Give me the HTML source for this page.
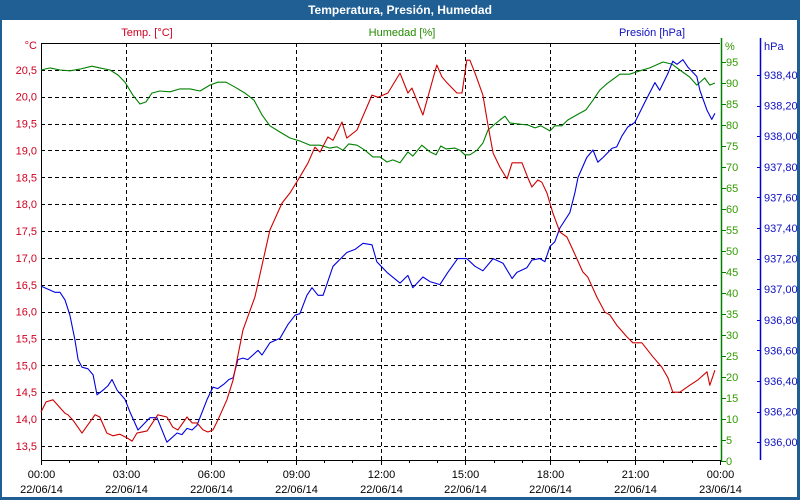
<!DOCTYPE html>
<html><head><meta charset="utf-8"><style>
html,body{margin:0;padding:0;background:#fff}
#wrap{position:relative;width:800px;height:500px;overflow:hidden;font-family:"Liberation Sans",sans-serif}
</style></head><body>
<div id="wrap">
<svg id="chart" width="800" height="500" xmlns="http://www.w3.org/2000/svg">
<rect x="0" y="0" width="800" height="500" fill="#1f5f94"/>
<rect x="2" y="20" width="795" height="477" fill="#ffffff"/>
<text x="400" y="14" text-anchor="middle" font-size="12" font-weight="bold" fill="#ffffff">Temperatura, Presión, Humedad</text>
<text x="147" y="36" text-anchor="middle" font-size="11" fill="#d00020">Temp. [°C]</text>
<text x="402" y="36" text-anchor="middle" font-size="11" fill="#228b00">Humedad [%]</text>
<text x="652" y="36" text-anchor="middle" font-size="11" fill="#1010c0">Presión [hPa]</text>
<g id="grid"></g><g id="axes"></g><g id="series"></g>
</svg>
</div>
<script>
const NS="http://www.w3.org/2000/svg";
const timeTicks=[0,3,6,9,12,15,18,21,24];
const timeLabels=["00:00","03:00","06:00","09:00","12:00","15:00","18:00","21:00","00:00"];
const dateLabels=["22/06/14","22/06/14","22/06/14","22/06/14","22/06/14","22/06/14","22/06/14","22/06/14","23/06/14"];
const tempTicks=[13.5,14,14.5,15,15.5,16,16.5,17,17.5,18,18.5,19,19.5,20,20.5];
const humTicks=[0,5,10,15,20,25,30,35,40,45,50,55,60,65,70,75,80,85,90,95];
const presTicks=[936.0,936.2,936.4,936.6,936.8,937.0,937.2,937.4,937.6,937.8,938.0,938.2,938.4];

const tempTimes=[0,.18,.42,.85,.95,1.13,1.45,1.91,2.08,2.33,2.54,2.79,3.04,3.22,3.39,3.75,4.13,4.45,4.66,4.84,5.16,5.34,5.51,5.73,5.90,6.08,6.25,6.57,6.79,7.14,7.56,8.09,8.52,8.80,9.15,9.44,9.68,9.86,10.14,10.32,10.64,10.81,11.17,11.70,11.91,12.26,12.69,12.97,13.11,13.50,13.99,14.17,14.35,14.70,14.88,15.05,15.16,15.34,15.62,15.80,15.98,16.22,16.47,16.65,17.00,17.21,17.35,17.56,17.70,17.88,18.09,18.34,18.59,18.80,19.15,19.33,19.65,19.93,20.11,20.35,20.71,20.92,21.24,21.63,21.94,22.16,22.33,22.58,22.93,23.22,23.54,23.64,23.82];
const tempVals=[14.13,14.32,14.36,14.11,14.08,13.98,13.74,14.08,14.04,13.74,13.69,13.72,13.65,13.59,13.74,13.78,14.08,14.04,13.85,13.80,14.04,13.93,13.93,13.80,13.76,13.80,13.98,14.36,14.73,15.66,16.27,17.52,18.02,18.21,18.51,18.77,19.06,18.97,19.25,19.19,19.53,19.23,19.38,20.03,19.99,20.07,20.44,20.07,20.16,19.66,20.59,20.37,20.26,20.07,20.07,20.68,20.68,20.44,20.03,19.47,18.95,18.69,18.47,18.77,18.77,18.49,18.32,18.45,18.41,18.21,17.84,17.48,17.39,17.15,16.74,16.64,16.27,15.99,15.94,15.75,15.53,15.42,15.42,15.16,14.97,14.77,14.50,14.50,14.63,14.73,14.88,14.63,14.91];

const humTimes=[0,.32,.67,1.02,1.38,1.80,2.08,2.44,2.72,2.97,3.25,3.50,3.71,3.92,4.20,4.56,4.91,5.27,5.62,5.97,6.25,6.54,6.86,7.21,7.53,7.81,8.09,8.45,8.80,9.15,9.51,9.86,10.21,10.46,10.67,10.88,11.17,11.45,11.73,11.98,12.23,12.44,12.69,12.97,13.14,13.46,13.75,13.96,14.13,14.31,14.63,14.81,14.98,15.16,15.41,15.62,15.80,16.01,16.22,16.40,16.57,16.93,17.21,17.46,17.67,17.99,18.16,18.41,18.62,18.94,19.26,19.51,19.75,20.00,20.46,20.81,21.17,21.52,21.98,22.30,22.58,22.93,23.18,23.46,23.64,23.82];
const humVals=[93.1,93.6,93.1,92.9,93.3,94.0,93.6,93.1,91.9,90.2,87.1,85.0,85.5,87.6,88.1,87.9,88.6,88.6,88.1,89.5,90.2,90.2,89.0,87.6,85.9,82.4,79.8,78.3,76.9,76.2,75.2,75.2,74.5,74.8,74.0,75.5,75.2,74.0,72.4,72.4,71.2,71.7,71.0,73.6,72.6,75.2,73.6,72.9,75.0,74.3,74.5,74.0,72.9,72.9,74.0,75.7,78.8,80.0,81.2,82.1,80.5,80.2,80.0,79.3,79.8,78.6,79.8,79.8,81.2,82.4,83.6,85.9,88.3,89.8,92.1,92.1,92.9,93.6,95.0,94.5,93.1,91.4,89.5,91.2,89.5,90.0];

const presTimes=[0,.25,.49,.67,.85,1.02,1.20,1.31,1.45,1.66,1.84,1.98,2.19,2.37,2.51,2.69,2.83,2.97,3.14,3.43,3.85,4.10,4.45,4.81,4.98,5.16,5.34,5.51,5.87,6.08,6.25,6.47,6.64,6.79,6.96,7.14,7.31,7.67,7.81,8.09,8.45,8.73,8.98,9.15,9.40,9.58,9.79,9.97,10.32,10.81,11.10,11.38,11.70,11.87,12.23,12.69,12.97,13.14,13.50,13.75,14.10,14.38,14.73,15.05,15.34,15.62,15.98,16.33,16.65,16.82,17.17,17.35,17.63,17.81,17.99,18.16,18.34,18.69,18.87,18.98,19.29,19.51,19.68,19.86,20.18,20.35,20.53,20.74,20.99,21.34,21.70,21.87,22.16,22.33,22.48,22.69,22.87,23.18,23.29,23.54,23.71,23.82];
const presVals=[937.02,937.00,936.98,936.98,936.93,936.83,936.67,936.54,936.49,936.48,936.44,936.31,936.34,936.37,936.41,936.34,936.31,936.28,936.20,936.08,936.16,936.16,936.00,936.06,936.05,936.09,936.08,936.11,936.28,936.36,936.35,936.38,936.41,936.42,936.54,936.55,936.54,936.60,936.57,936.65,936.68,936.77,936.83,936.84,936.96,937.01,936.96,936.96,937.15,937.24,937.26,937.30,937.29,937.18,937.11,937.04,937.09,937.01,937.08,937.05,937.03,937.11,937.20,937.20,937.15,937.12,937.20,937.17,937.07,937.11,937.14,937.19,937.20,937.18,937.28,937.31,937.40,937.50,937.63,937.73,937.86,937.91,937.83,937.86,937.92,937.93,938.00,938.06,938.09,938.22,938.35,938.30,938.41,938.49,938.47,938.50,938.45,938.39,938.30,938.17,938.11,938.15];

const X0=41,X1=720,Y0=460,YT=43;
const xs=t=>X0+(X1-X0)*t/24;
const yTemp=v=>43+(21-v)*53.73;
const yHum=v=>461-v*4.2;
const yPres=v=>75+(938.4-v)*153;
function mk(tag,attrs,parent,text){const e=document.createElementNS(NS,tag);for(const k in attrs)e.setAttribute(k,attrs[k]);if(text!==undefined)e.textContent=text;parent.appendChild(e);return e;}
const grid=document.getElementById('grid'),axes=document.getElementById('axes'),series=document.getElementById('series');
const fmt=(v,d)=>v.toFixed(d).replace('.',',');

tempTicks.concat([21]).forEach(v=>{const y=Math.round(yTemp(v))+.5;
 const l=mk('line',{x1:X0,x2:X1,y1:y,y2:y,stroke:'#000','stroke-width':1,'stroke-dasharray':v===21?'none':'4,3'},grid);
 
 });
tempTicks.forEach(v=>{const t=mk('text',{x:37,y:yTemp(v)+4,'text-anchor':'end','font-size':11,fill:'#d00020'},axes,fmt(v,1));
 
 });
const cl=mk('text',{x:37,y:49,'text-anchor':'end','font-size':11,fill:'#d00020'},axes,'°C');



timeTicks.forEach((t,i)=>{const x=Math.round(xs(t))+.5;
 if(i>0&&i<timeTicks.length-1){const l=mk('line',{x1:x,x2:x,y1:YT,y2:Y0,stroke:'#000','stroke-width':1,'stroke-dasharray':'4,3'},grid);
 
 }
 const a=mk('text',{x:x,y:478,'text-anchor':'middle','font-size':11,fill:'#000'},axes,timeLabels[i]);
 
 
 const b=mk('text',{x:x,y:493,'text-anchor':'middle','font-size':11,fill:'#000'},axes,dateLabels[i]);
 
 });
for(let h=0;h<=24;h++){const x=Math.round(xs(h))+.5;const tk=mk('line',{x1:x,x2:x,y1:Y0,y2:Y0+(h%3===0?5:3),stroke:'#000'},axes);
 
 }
const xa=mk('line',{x1:X0,x2:X1,y1:Y0+.5,y2:Y0+.5,stroke:'#000'},axes);


const la=mk('line',{x1:X0+.5,x2:X0+.5,y1:YT,y2:Y0,stroke:'#000'},axes);



const ha=mk('line',{x1:721.5,x2:721.5,y1:38,y2:Y0+1,stroke:'#008000','stroke-width':1.5},axes);


humTicks.forEach(v=>{const y=Math.round(yHum(v))+.5;mk('line',{x1:721,x2:726,y1:y,y2:y,stroke:'#008000'},axes);
 const t=mk('text',{x:726,y:yHum(v)+4,'font-size':11,fill:'#339900'},axes,String(v));
 
 });
const pc=mk('text',{x:725,y:50,'font-size':11,fill:'#339900'},axes,'%');



const pa=mk('line',{x1:760.5,x2:760.5,y1:38,y2:Y0,stroke:'#0000d0','stroke-width':1.5},axes);


presTicks.forEach(v=>{const y=Math.round(yPres(v))+.5;mk('line',{x1:757,x2:761,y1:y,y2:y,stroke:'#0000d0'},axes);
 const t=mk('text',{x:764,y:yPres(v)+4,'font-size':11,fill:'#1010c0'},axes,fmt(v,2));
 
 });
const hp=mk('text',{x:764,y:50,'font-size':11,fill:'#1010c0'},axes,'hPa');



function line(times,vals,yf,color,name){const d=times.map((t,i)=>(i?'L':'M')+xs(t).toFixed(1)+','+yf(vals[i]).toFixed(1)).join('');
 const p=mk('path',{d:d,fill:'none',stroke:color,'stroke-width':1.1,'stroke-linejoin':'round'},series);
 
 }
line(humTimes,humVals,yHum,'#008000','humidity-line');
line(presTimes,presVals,yPres,'#0000e0','pressure-line');
line(tempTimes,tempVals,yTemp,'#d00000','temperature-line');
</script>
</body></html>
